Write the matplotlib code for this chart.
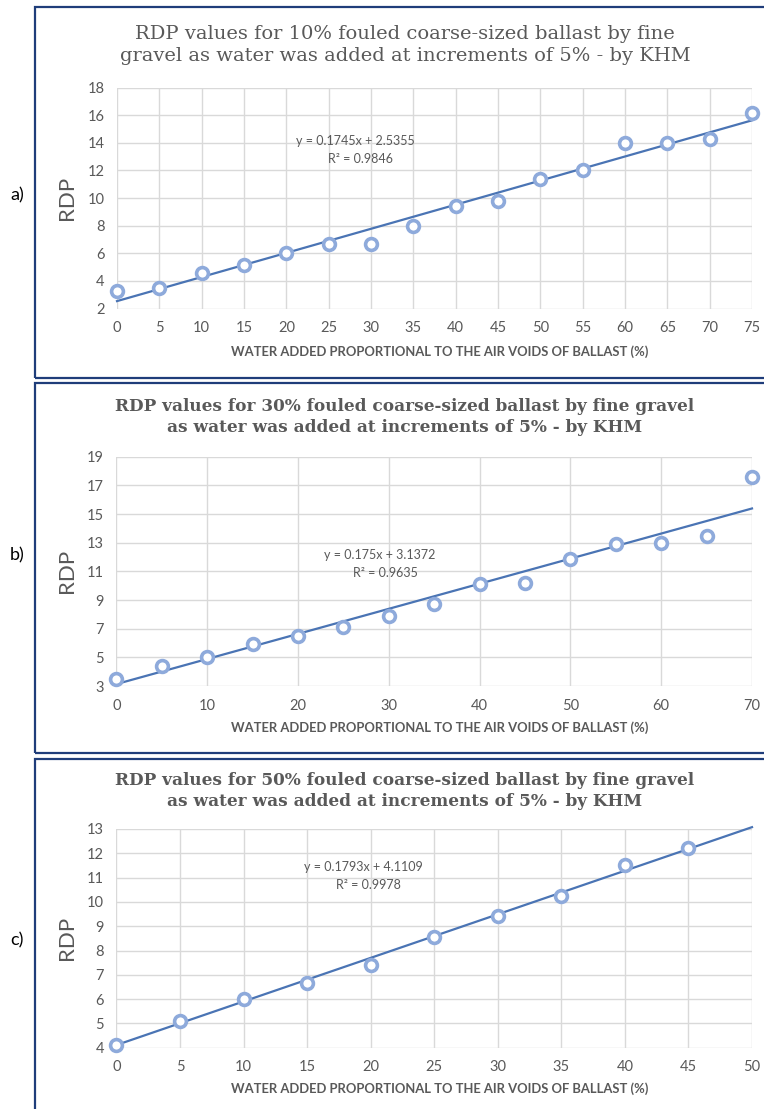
import matplotlib
matplotlib.use('Agg')
import matplotlib.pyplot as plt
from matplotlib.patches import Rectangle

# Data
water_a = [0, 5, 10, 15, 20, 25, 30, 35, 40, 45, 50, 55, 60, 65, 70, 75]
rdp_a = [3.25, 3.5, 4.6, 5.15, 6.0, 6.65, 6.7, 8.0, 9.4, 9.8, 11.35, 12.05, 14.0, 14.0, 14.25, 16.15]

water_b = [0, 5, 10, 15, 20, 25, 30, 35, 40, 45, 50, 55, 60, 65, 70]
rdp_b = [3.5, 4.4, 5.05, 5.9, 6.5, 7.1, 7.85, 8.75, 10.15, 10.2, 11.85, 12.9, 12.95, 13.5, 17.6]

water_c = [0, 5, 10, 15, 20, 25, 30, 35, 40, 45]
rdp_c = [4.1, 5.1, 6.0, 6.65, 7.4, 8.55, 9.4, 10.25, 11.5, 12.2]

# trendline coefficients as printed on the chart
slope = [0.1745, 0.175, 0.1793]
intercept = [2.5355, 3.1372, 4.1109]
r2 = ['0.9846', '0.9635', '0.9978']

titles = ['RDP values for 10% fouled coarse-sized ballast by fine\ngravel as water was added at increments of 5% - by KHM',
          'RDP values for 30% fouled coarse-sized ballast by fine gravel\nas water was added at increments of 5% - by KHM',
          'RDP values for 50% fouled coarse-sized ballast by fine gravel\nas water was added at increments of 5% - by KHM']
panel_labels = ['a)', 'b)', 'c)']
x_max = [75, 70, 50]
x_step = [5, 10, 5]
y_ticks = [list(range(2, 19, 2)), list(range(3, 20, 2)), list(range(4, 14, 1))]

W, H = 764, 1109
fig = plt.figure(figsize=(W / 100, H / 100), dpi=100)

gray = '#595959'
line_col = '#4a74b4'
marker_col = '#8eaadb'
border_col = '#1f3d7a'


def px_rect(l, t, r, b):
    return [l / W, 1 - b / H, (r - l) / W, (b - t) / H]


# axes box (left, top, right, bottom) in pixels
boxes = [(117, 87.5, 752, 308.5), (116.5, 456.7, 752, 686), (116.5, 829, 752, 1047.7)]
# outer frame of each panel (left, top, bottom) in pixels
frames = [(35, 7, 377.7), (35, 382.7, 753), (35, 759, 1125)]
title_y = [45, 417, 791]
title_size = [14, 12.2, 12.2]
eq_pos = [(355, 141), (380, 555), (363, 867)]
label_y = [195, 555, 940]
xlabel_y = [352, 728, 1089]

data = [(water_a, rdp_a), (water_b, rdp_b), (water_c, rdp_c)]

for i in range(3):
    l, t, r, b = boxes[i]
    ax = fig.add_axes(px_rect(l, t, r, b))
    xs, ys = data[i]

    # trendline from the printed equation
    fx = [0, x_max[i]]
    fy = [slope[i] * v + intercept[i] for v in fx]
    ax.plot(fx, fy, color=line_col, lw=1.6, zorder=3, clip_on=False)
    ax.plot(xs, ys, 'o', ms=8.5, mfc='white', mec=marker_col, mew=2.6, zorder=4, clip_on=False)

    ax.set_xlim(0, x_max[i])
    ax.set_ylim(y_ticks[i][0], y_ticks[i][-1])
    ax.set_xticks(range(0, x_max[i] + 1, x_step[i]))
    ax.set_yticks(y_ticks[i])
    ax.grid(color='#d9d9d9', lw=1)
    ax.set_axisbelow(True)
    for s in ax.spines.values():
        s.set_visible(False)
    ax.tick_params(length=0, labelsize=10.5, labelcolor=gray, pad=9)
    for lab in ax.get_xticklabels() + ax.get_yticklabels():
        lab.set_family('Lato')

    # frame around the panel
    fl, ft, fb = frames[i]
    fig.patches.append(Rectangle((fl / W, 1 - fb / H), (W + 20 - fl) / W, (fb - ft) / H,
                                 transform=fig.transFigure, fill=False,
                                 edgecolor=border_col, lw=1.6, clip_on=False))

    fig.text(405 / W, 1 - title_y[i] / H, titles[i], ha='center', va='center',
             family='DejaVu Serif', fontsize=title_size[i], color=gray,
             weight='normal' if i == 0 else 'bold', linespacing=1.3)
    ex, ey = eq_pos[i]
    fig.text(ex / W, 1 - ey / H, 'y = %gx + %g' % (slope[i], intercept[i]),
             ha='center', va='center', family='Lato', fontsize=9, color=gray)
    fig.text((ex + 5) / W, 1 - (ey + 18) / H, 'R² = ' + r2[i],
             ha='center', va='center', family='Lato', fontsize=9, color=gray)
    fig.text(67 / W, 1 - ((t + b) / 2) / H, 'RDP', rotation=90, ha='center', va='center',
             family='Lato', fontsize=16, color=gray)
    fig.text(17 / W, 1 - label_y[i] / H, panel_labels[i], ha='center', va='center',
             family='Lato', fontsize=13, color='black')
    fig.text(440 / W, 1 - xlabel_y[i] / H, 'WATER ADDED PROPORTIONAL TO THE AIR VOIDS OF BALLAST (%)',
             ha='center', va='center', family='Lato', fontsize=9.4, weight='bold', color=gray)

fig.savefig('out.png', dpi=100)
